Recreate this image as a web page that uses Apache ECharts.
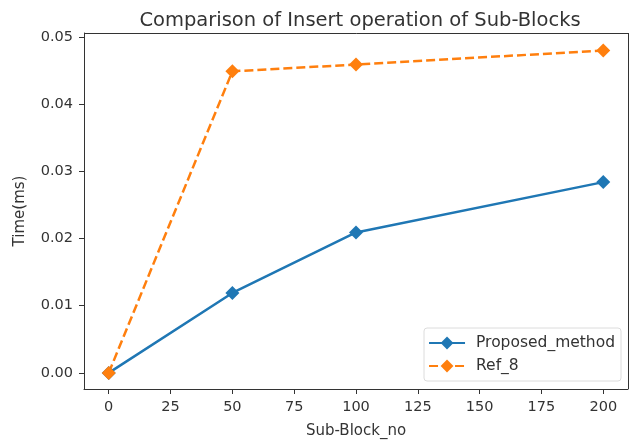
<!DOCTYPE html>
<html>
<head>
<meta charset="utf-8">
<script src="https://cdn.jsdelivr.net/npm/echarts@6/dist/echarts.min.js"></script>
<style>
  html, body { margin: 0; padding: 0; background: #fff; }
  #main { width: 631px; height: 443px; }
</style>
</head>
<body>
<div id="main"></div>
<script>
var xTicks = [0, 25, 50, 75, 100, 125, 150, 175, 200];
var yTicks = [0, 0.01, 0.02, 0.03, 0.04, 0.05];
var blockNo = [0, 50, 100, 200];
var proposed = [0, 0.0119, 0.0209, 0.0284];
var ref8 = [0, 0.0449, 0.0459, 0.0480];

var font = 'DejaVu Sans';
var chart = echarts.init(document.getElementById('main'));

function pairs(xs, ys) {
  return xs.map(function (x, i) { return [x, ys[i]]; });
}

chart.setOption({
  animation: false,
  title: {
    text: 'Comparison of Insert operation of Sub-Blocks',
    left: 355, top: 6, textAlign: 'center',
    textStyle: { fontFamily: font, fontSize: 19.5, fontWeight: 'normal', color: '#333' }
  },
  grid: { left: 84, right: 3, top: 33, bottom: 54, outerBoundsMode: 'none' },
  legend: {
    right: 10, bottom: 62, orient: 'vertical',
    itemWidth: 36, itemHeight: 16, itemGap: 7,
    padding: [7, 6, 7, 4],
    borderColor: '#dcdcdc', borderWidth: 1, borderRadius: 3,
    backgroundColor: '#fff',
    textStyle: { fontFamily: font, fontSize: 15.5, color: '#333', padding: [0, 0, 0, 6] },
    data: ['Proposed_method', 'Ref_8']
  },
  xAxis: {
    type: 'value', min: -10, max: 210,
    name: 'Sub-Block_no', nameLocation: 'middle', nameGap: 35,
    nameTextStyle: { fontFamily: font, fontSize: 15, color: '#333' },
    axisLine: { onZero: false, lineStyle: { color: '#333', width: 1 } },
    axisTick: { show: true, inside: false, length: 5, customValues: xTicks, lineStyle: { color: '#333' } },
    axisLabel: { customValues: xTicks, fontFamily: font, fontSize: 14.5, color: '#333', margin: 11 },
    splitLine: { show: false }
  },
  yAxis: {
    type: 'value', min: -0.0024, max: 0.0506,
    name: 'Time(ms)', nameLocation: 'middle', nameGap: 56, nameRotate: 90,
    nameTextStyle: { fontFamily: font, fontSize: 15, color: '#333' },
    axisLine: { show: true, onZero: false, lineStyle: { color: '#333', width: 1 } },
    axisTick: { show: true, inside: false, length: 5, customValues: yTicks, lineStyle: { color: '#333' } },
    axisLabel: {
      customValues: yTicks, fontFamily: font, fontSize: 14.5, color: '#333', margin: 11,
      formatter: function (v) { return v.toFixed(2); }
    },
    splitLine: { show: false }
  },
  // top and right edges of the frame
  graphic: [
    { type: 'line', z: 100, silent: true, shape: { x1: 84, y1: 33.5, x2: 628.5, y2: 33.5 }, style: { stroke: '#333', lineWidth: 1 } },
    { type: 'line', z: 100, silent: true, shape: { x1: 628.5, y1: 33, x2: 628.5, y2: 389 }, style: { stroke: '#333', lineWidth: 1 } }
  ],
  series: [
    {
      name: 'Proposed_method', type: 'line',
      data: pairs(blockNo, proposed),
      symbol: 'diamond', symbolSize: 14,
      lineStyle: { color: '#1f77b4', width: 2.5 },
      itemStyle: { color: '#1f77b4' }
    },
    {
      name: 'Ref_8', type: 'line',
      data: pairs(blockNo, ref8),
      symbol: 'diamond', symbolSize: 14,
      lineStyle: { color: '#ff7f0e', width: 2.5, type: [9, 4] },
      itemStyle: { color: '#ff7f0e' }
    }
  ]
});
</script>
</body>
</html>
